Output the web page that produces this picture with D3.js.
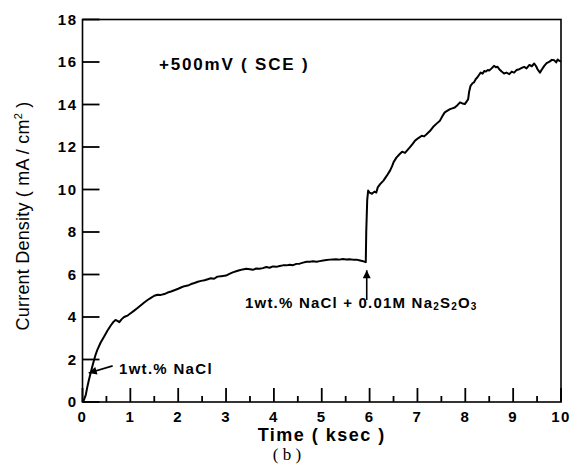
<!DOCTYPE html>
<html><head><meta charset="utf-8">
<script src="https://cdn.jsdelivr.net/npm/d3@7"></script>
<style>
html,body{margin:0;padding:0;background:#fff;}
svg{display:block;}
</style>
</head><body>
<svg id="chart" width="575" height="467"></svg>
<script>
const timeKsec = [0,0.03,0.07,0.1,0.13,0.17,0.22,0.27,0.31,0.38,0.45,0.52,0.59,0.65,0.69,0.73,0.77,0.82,0.87,0.95,1.02,1.08,1.15,1.22,1.29,1.36,1.43,1.5,1.57,1.64,1.71,1.78,1.85,1.92,2.0,2.07,2.13,2.2,2.27,2.34,2.41,2.48,2.55,2.62,2.68,2.75,2.82,2.9,3.0,3.07,3.14,3.21,3.28,3.35,3.42,3.5,3.56,3.63,3.7,3.77,3.84,3.91,3.98,4.05,4.12,4.19,4.26,4.33,4.4,4.47,4.54,4.61,4.68,4.75,4.82,4.89,4.96,5.03,5.1,5.17,5.23,5.3,5.37,5.44,5.51,5.58,5.65,5.73,5.8,5.87,5.92,5.93,5.95,5.97,6.0,6.05,6.1,6.14,6.17,6.22,6.29,6.36,6.43,6.47,6.5,6.56,6.63,6.68,6.74,6.79,6.84,6.9,6.95,7.02,7.09,7.14,7.19,7.26,7.33,7.4,7.47,7.52,7.57,7.62,7.68,7.73,7.78,7.84,7.89,7.94,7.99,8.03,8.06,8.08,8.11,8.15,8.18,8.22,8.25,8.29,8.32,8.36,8.4,8.43,8.47,8.5,8.55,8.6,8.64,8.67,8.71,8.76,8.81,8.86,8.92,8.97,9.02,9.07,9.13,9.18,9.23,9.28,9.34,9.39,9.44,9.48,9.51,9.56,9.6,9.65,9.7,9.76,9.81,9.86,9.9,9.93,9.97,10.0];
const currentDensity = [0,0.1,0.35,0.7,1.0,1.36,1.8,2.2,2.45,2.8,3.07,3.35,3.6,3.78,3.86,3.82,3.76,3.9,4.0,4.08,4.2,4.3,4.42,4.55,4.68,4.8,4.9,5.0,5.05,5.04,5.08,5.15,5.2,5.26,5.33,5.4,5.45,5.48,5.55,5.6,5.66,5.7,5.73,5.78,5.82,5.8,5.9,5.92,5.95,6.03,6.1,6.15,6.2,6.24,6.27,6.25,6.22,6.28,6.27,6.3,6.35,6.32,6.38,6.36,6.4,6.43,6.43,6.46,6.44,6.5,6.51,6.56,6.6,6.6,6.62,6.6,6.63,6.66,6.68,6.7,6.71,6.72,6.7,6.73,6.71,6.72,6.7,6.7,6.66,6.62,6.58,8.0,9.5,9.95,9.85,9.8,9.9,9.86,10.1,10.25,10.42,10.65,10.9,11.1,11.28,11.5,11.67,11.78,11.72,11.85,11.98,12.15,12.3,12.42,12.53,12.5,12.6,12.75,12.95,13.1,13.24,13.45,13.63,13.7,13.78,13.82,13.86,13.98,14.1,14.05,14.02,14.15,14.25,14.6,14.88,15.0,15.04,15.2,15.27,15.4,15.5,15.45,15.58,15.55,15.62,15.6,15.7,15.82,15.75,15.78,15.66,15.55,15.46,15.5,15.43,15.55,15.5,15.62,15.66,15.72,15.77,15.7,15.86,15.8,15.93,15.8,15.66,15.5,15.65,15.82,15.95,16.02,16.1,16.08,15.98,16.12,16.05,16.02];
const xTicks = [0,1,2,3,4,5,6,7,8,9,10];
const xMinorTicks = [0.5,1.5,2.5,3.5,4.5,5.5,6.5,7.5,8.5,9.5];
const yTicks = [0,2,4,6,8,10,12,14,16,18];
const xTitle = "Time ( ksec )";
const yTitle = "Current Density ( mA / cm";
const potentialLabel = "+500mV ( SCE )";
const figLabel = "( b )";

const svg = d3.select("#chart");
const L = 82.5, R = 561, T = 19.5, B = 402;
const x = d3.scaleLinear().domain([0,10]).range([L,R]);
const y = d3.scaleLinear().domain([0,18]).range([B,T]);
const font = "'Liberation Sans', Arial, sans-serif";

// frame
svg.append("rect").attr("x",L).attr("y",T).attr("width",R-L).attr("height",B-T)
  .attr("fill","none").attr("stroke","#000").attr("stroke-width",1.6);

// x ticks (inward)
svg.append("g").selectAll("line").data(xTicks).join("line")
  .attr("x1",d=>x(d)).attr("x2",d=>x(d)).attr("y1",B).attr("y2",B-14)
  .attr("stroke","#000").attr("stroke-width",1.8);
svg.append("g").selectAll("line").data(xMinorTicks).join("line")
  .attr("x1",d=>x(d)).attr("x2",d=>x(d)).attr("y1",B).attr("y2",B-6)
  .attr("stroke","#000").attr("stroke-width",1.8);
svg.append("g").selectAll("text").data(xTicks).join("text")
  .attr("x",d=>x(d)).attr("y",B+20).attr("text-anchor","middle")
  .attr("font-family",font).attr("font-weight","bold").attr("font-size",15).attr("letter-spacing",1.5)
  .text(d=>d);

// y ticks (inward)
svg.append("g").selectAll("line").data(yTicks).join("line")
  .attr("x1",L).attr("x2",L+17).attr("y1",d=>y(d)).attr("y2",d=>y(d))
  .attr("stroke","#000").attr("stroke-width",1.8);
svg.append("g").selectAll("text").data(yTicks).join("text")
  .attr("x",L-5).attr("y",d=>y(d)+5).attr("text-anchor","end")
  .attr("font-family",font).attr("font-weight","bold").attr("font-size",15).attr("letter-spacing",1.5)
  .text(d=>d);

// curve
const pts = timeKsec.map((t,i)=>[t,currentDensity[i]]);
svg.append("path").datum(pts)
  .attr("d", d3.line().x(d=>x(d[0])).y(d=>y(d[1])))
  .attr("fill","none").attr("stroke","#000").attr("stroke-width",2).attr("stroke-linejoin","round");

// titles
svg.append("text").attr("x",(L+R)/2).attr("y",441).attr("text-anchor","middle")
  .attr("font-family",font).attr("font-weight","bold").attr("font-size",18).attr("letter-spacing",1.5).text(xTitle);
const yt = svg.append("text").attr("transform","translate(29,216) rotate(-90)")
  .attr("text-anchor","middle").attr("font-family",font).attr("font-size",18).attr("letter-spacing",0.2);
yt.append("tspan").text(yTitle);
yt.append("tspan").attr("dy",-7).attr("font-size",11).text("2");
yt.append("tspan").attr("dy",7).text(" )");

svg.append("text").attr("x",287).attr("y",460).attr("text-anchor","middle")
  .attr("font-family","'Liberation Serif', 'Times New Roman', serif").attr("font-size",17).text(figLabel);

svg.append("text").attr("x",159).attr("y",70)
  .attr("font-family",font).attr("font-weight","bold").attr("font-size",17).attr("letter-spacing",1.8).text(potentialLabel);

// arrow markers
const defs = svg.append("defs");
defs.append("marker").attr("id","ah").attr("viewBox","0 0 10 10").attr("refX",10).attr("refY",5)
  .attr("markerWidth",9).attr("markerHeight",8).attr("markerUnits","userSpaceOnUse").attr("orient","auto")
  .append("path").attr("d","M0,0 L10,5 L0,10 Z").attr("fill","#000");

// annotation 1
svg.append("line").attr("x1",x(0.63)).attr("y1",y(1.7)).attr("x2",x(0.13)).attr("y2",y(1.36))
  .attr("stroke","#000").attr("stroke-width",1.6).attr("marker-end","url(#ah)");
svg.append("text").attr("x",119).attr("y",374)
  .attr("font-family",font).attr("font-weight","bold").attr("font-size",15).attr("letter-spacing",1.3).text("1wt.% NaCl");

// annotation 2
svg.append("line").attr("x1",x(5.94)).attr("y1",y(4.8)).attr("x2",x(5.94)).attr("y2",y(6.2))
  .attr("stroke","#000").attr("stroke-width",1.6).attr("marker-end","url(#ah)");
const a2 = svg.append("text").attr("x",245).attr("y",308)
  .attr("font-family",font).attr("font-weight","bold").attr("font-size",15).attr("letter-spacing",1.2);
a2.append("tspan").text("1wt.% NaCl + 0.01M Na");
a2.append("tspan").attr("font-size",10).attr("dy",2).text("2");
a2.append("tspan").attr("dy",-2).text("S");
a2.append("tspan").attr("font-size",10).attr("dy",2).text("2");
a2.append("tspan").attr("dy",-2).text("O");
a2.append("tspan").attr("font-size",10).attr("dy",2).text("3");
</script>
</body></html>
